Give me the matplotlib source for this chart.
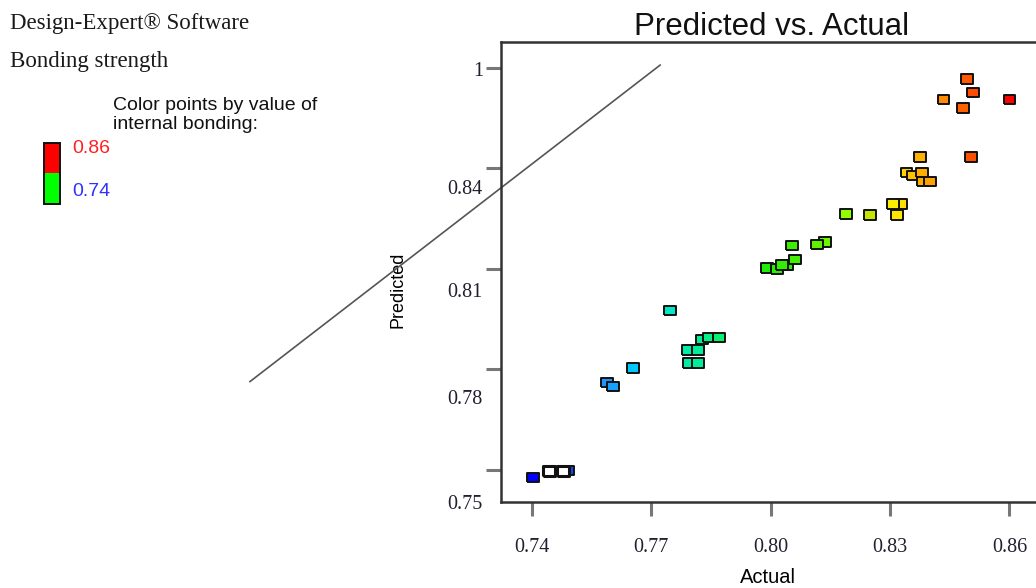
#!/usr/bin/env python3
"""Predicted vs. Actual plot for bonding strength, Design-Expert style."""

import matplotlib
matplotlib.use("Agg")
import matplotlib.pyplot as plt
from matplotlib.colors import LinearSegmentedColormap, Normalize
from matplotlib.patches import Rectangle


# actual / predicted values
actual = [0.7492, 0.7403, 0.7589, 0.7604, 0.7654, 0.7747, 0.7828, 0.7845,
          0.7870, 0.7792, 0.7817, 0.7795, 0.7817, 0.7991, 0.8016, 0.8041,
          0.8029, 0.8061, 0.8054, 0.8137, 0.8117, 0.8190, 0.8250, 0.8328,
          0.8308, 0.8318, 0.8376, 0.8341, 0.8358, 0.8381, 0.8383, 0.8401,
          0.8504, 0.8434, 0.8484, 0.8509, 0.8494, 0.8600]
predicted = [0.7497, 0.7476, 0.7760, 0.7748, 0.7804, 0.7975, 0.7889, 0.7895,
             0.7895, 0.7857, 0.7857, 0.7819, 0.7819, 0.8102, 0.8099, 0.8111,
             0.8111, 0.8128, 0.8170, 0.8181, 0.8173, 0.8264, 0.8261, 0.8294,
             0.8294, 0.8261, 0.8435, 0.8388, 0.8379, 0.8388, 0.8361, 0.8361,
             0.8435, 0.8606, 0.8580, 0.8627, 0.8668, 0.8606]

# two points drawn hollow (white) in the reference
hollow_actual = [0.7443, 0.7477]
hollow_predicted = [0.7497, 0.7497]

# the misplaced reference line, as drawn
diag_x = [0.6691, 0.7722]
diag_y = [0.7763, 0.8709]

x_ticks = [0.74, 0.77, 0.80, 0.83, 0.86]
x_labels = ["0.74", "0.77", "0.80", "0.83", "0.86"]
y_ticks = [0.75, 0.78, 0.81, 0.84, 0.87]
y_label_pos = [0.7403, 0.7718, 0.8037, 0.8344, 0.8698]
y_labels = ["0.75", "0.78", "0.81", "0.84", "1"]

color_low, color_high = 0.74, 0.86

W, H = 1036, 588
fig = plt.figure(figsize=(W / 100, H / 100), dpi=100)
fig.patch.set_facecolor("white")

# axes frame: left 501px, right ~1042px (past the edge), top 42px, bottom 502px
ax = fig.add_axes([501 / W, (H - 502) / H, 541 / W, 460 / H])
ax.set_xlim(0.7322, 0.8682)
ax.set_ylim(0.7423, 0.8778)

cmap = LinearSegmentedColormap.from_list(
    "de",
    [(0.0, "#0000ff"), (0.15, "#1e90ff"), (0.217, "#00ccff"),
     (0.292, "#00e8c0"), (0.358, "#00f090"), (0.5, "#22ee00"),
     (0.583, "#55ee00"), (0.667, "#99ff00"), (0.717, "#cce000"),
     (0.758, "#ffee00"), (0.817, "#ffb000"), (0.858, "#ff9000"),
     (0.917, "#ff5500"), (1.0, "#ff0000")],
)
norm = Normalize(color_low, color_high)

rect = [(-1.2, -1), (1.2, -1), (1.2, 1), (-1.2, 1), (-1.2, -1)]
ax.scatter(actual, predicted, c=actual, cmap=cmap, norm=norm, marker=rect,
           s=70, edgecolors="#111111", linewidths=1.4, zorder=3)
ax.scatter(hollow_actual, hollow_predicted, c="white", marker=rect,
           s=70, edgecolors="#111111", linewidths=2.2, zorder=4)

ax.plot(diag_x, diag_y, color="#555555", lw=1.2, clip_on=False, zorder=2)

for side in ax.spines.values():
    side.set_color("#333333")
    side.set_linewidth(1.8)

# tick marks (minor) and tick labels (major, placed where the picture has them)
ax.set_xticks(x_ticks)
ax.set_xticklabels(x_labels, family="Liberation Serif", fontsize=14.5,
                   color="#202030")
ax.tick_params(axis="x", length=10, width=2.2, color="#777777", pad=16)

ax.set_yticks(y_ticks, minor=True)
ax.set_yticks(y_label_pos)
ax.set_yticklabels(y_labels, family="Liberation Serif", fontsize=14.5,
                   color="#202030")
ax.tick_params(axis="y", which="major", length=0, pad=13)
ax.tick_params(axis="y", which="minor", length=11, width=2.2, color="#777777")

ax.set_title("Predicted vs. Actual", family="Liberation Sans", fontsize=22.5,
             color="#111111", pad=4)
ax.set_xlabel("Actual", family="Liberation Sans", fontsize=14.5, va="center")
ax.xaxis.set_label_coords(0.4935, -0.165)
ax.set_ylabel("Predicted", family="Liberation Sans", fontsize=13, va="center")
ax.yaxis.set_label_coords(-0.19, 0.461)

# header text
fig.text(10 / W, 1 - 23 / H, "Design-Expert® Software",
         family="Liberation Serif", fontsize=16.5, color="#1a1a1a", va="center")
fig.text(10 / W, 1 - 62 / H, "Bonding strength",
         family="Liberation Serif", fontsize=16.5, color="#1a1a1a", va="center")
fig.text(113 / W, 1 - 115 / H, "Color points by value of\ninternal bonding:",
         family="Liberation Sans", fontsize=14, color="#111111", va="center",
         linespacing=1.08)

# two-colour key
fig.patches.append(Rectangle((44 / W, 1 - 173 / H), 16 / W, 30 / H,
                             transform=fig.transFigure, facecolor="#ff0000",
                             edgecolor="none"))
fig.patches.append(Rectangle((44 / W, 1 - 204 / H), 16 / W, 31 / H,
                             transform=fig.transFigure, facecolor="#00ff00",
                             edgecolor="none"))
fig.patches.append(Rectangle((44 / W, 1 - 204 / H), 16 / W, 61 / H,
                             transform=fig.transFigure, facecolor="none",
                             edgecolor="#111111", lw=1.4))
fig.text(72 / W, 1 - 148 / H, f"{color_high:.2f}", family="Liberation Sans",
         fontsize=14, color="#ff2020", va="center")
fig.text(72 / W, 1 - 191 / H, f"{color_low:.2f}", family="Liberation Sans",
         fontsize=14, color="#3030ff", va="center")

fig.savefig("out.png", dpi=100)
